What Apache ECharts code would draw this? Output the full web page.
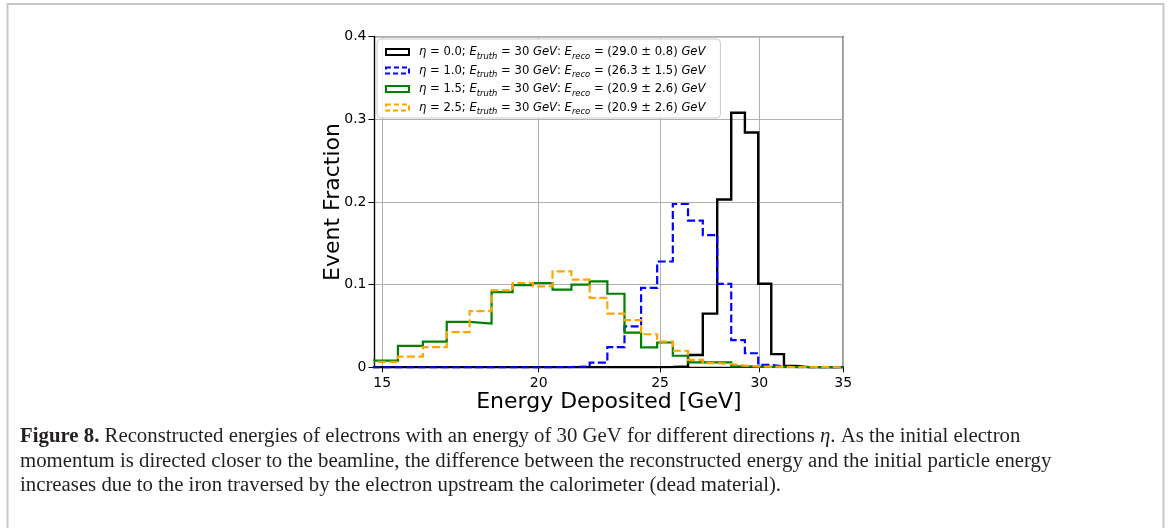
<!DOCTYPE html>
<html>
<head>
<meta charset="utf-8">
<script src="https://cdn.jsdelivr.net/npm/echarts@6/dist/echarts.min.js"></script>
<style>
html,body{margin:0;padding:0;background:#fff;}
#chart{width:1170px;height:528px;}
</style>
</head>
<body>
<div id="chart"></div>
<script>
// ---- data ----
const binEdges = [14.715, 15.44, 16.165, 16.89, 17.615, 18.34, 19.065, 19.79, 20.515, 21.24, 21.965, 22.69, 23.415, 24.14, 24.865, 25.59, 26.315, 27.04, 27.765, 28.49, 29.215, 29.94, 30.665, 31.39, 32.115, 32.84, 33.565, 34.29, 35.015];
const eta00 = [0,0,0,0,0,0,0,0,0,0,0,0,0,0,0.0003,0.001,0.0148,0.065,0.203,0.308,0.284,0.101,0.016,0.0016,0.0002,0,0,0];
const eta10 = [0,0,0,0,0,0,0,0,0.0003,0.001,0.0056,0.0245,0.0495,0.096,0.128,0.1976,0.1775,0.160,0.101,0.033,0.017,0.003,0.0008,0.0003,0,0,0,0];
const eta15 = [0.008,0.026,0.031,0.055,0.053,0.091,0.0995,0.102,0.094,0.100,0.104,0.089,0.042,0.024,0.030,0.014,0.006,0.006,0.006,0.001,0.0008,0.0005,0.0003,0.0002,0.0001,0.0001,0,0];
const eta25 = [0.0065,0.013,0.0245,0.0425,0.068,0.093,0.102,0.098,0.116,0.106,0.084,0.065,0.057,0.040,0.031,0.020,0.009,0.005,0.004,0.002,0.001,0.0008,0.0005,0.0003,0.0002,0.0001,0.0001,0];
const etaLabels = ['0.0', '1.0', '1.5', '2.5'];
const eTruth = ['30', '30', '30', '30'];
const recoMean = ['29.0', '26.3', '20.9', '20.9'];
const recoErr = ['0.8', '1.5', '2.6', '2.6'];
const xTickValues = [15, 20, 25, 30, 35];
const yTickValues = [0, 0.1, 0.2, 0.3, 0.4];
const xRange = [14.79, 35];
const yRange = [0, 0.4];
const xTitle = 'Energy Deposited [GeV]';
const yTitle = 'Event Fraction';
const captionLines = [
  '{b|Figure 8.} Reconstructed energies of electrons with an energy of 30 GeV for different directions {i|η}. As the initial electron',
  'momentum is directed closer to the beamline, the difference between the reconstructed energy and the initial particle energy',
  'increases due to the iron traversed by the electron upstream the calorimeter (dead material).'
];

// ---- styles ----
const colors = ['#000000', '#0000ff', '#008000', '#ffa500'];
const dashed = [false, true, false, true];
const seriesValues = [eta00, eta10, eta15, eta25];

const lx = v => Math.log10(v);

function stepPoints(vals) {
  const pts = [[lx(binEdges[0]), 0]];
  for (let k = 0; k < vals.length; k++) {
    pts.push([lx(binEdges[k]), vals[k]]);
    pts.push([lx(binEdges[k + 1]), vals[k]]);
  }
  pts.push([lx(binEdges[binEdges.length - 1]), 0]);
  return pts;
}

const names = etaLabels.map(e => 'η = ' + e);

const series = seriesValues.map((vals, i) => ({
  name: names[i],
  type: 'line',
  data: stepPoints(vals),
  showSymbol: false,
  symbol: 'none',
  clip: true,
  silent: true,
  itemStyle: { color: colors[i] },
  lineStyle: {
    color: colors[i],
    width: i === 0 ? 2.4 : 2.2,
    type: dashed[i] ? [8, 3.5] : 'solid',
    cap: 'butt',
    join: 'miter'
  },
  z: 2 + i
}));

const FS = 11.6;
const LH = 17;
const legendRich = {
  g: { fontFamily: 'DejaVu Sans', fontSize: FS, color: '#000', fontStyle: 'italic', padding: [0, 0, 0, 5], lineHeight: LH },
  t: { fontFamily: 'DejaVu Sans', fontSize: FS, color: '#000', lineHeight: LH },
  i: { fontFamily: 'DejaVu Sans', fontSize: FS, color: '#000', fontStyle: 'italic', lineHeight: LH },
  s: { fontFamily: 'DejaVu Sans', fontSize: 8.4, color: '#000', fontStyle: 'italic', verticalAlign: 'bottom', lineHeight: 9.5 }
};

function legendText(name) {
  const i = names.indexOf(name);
  return '{g|η}{t| = ' + etaLabels[i] + '; }{i|E}{s|truth}{t| = ' + eTruth[i] + ' }{i|GeV}{t|: }{i|E}{s|reco}{t| = (' +
    recoMean[i] + ' ± ' + recoErr[i] + ') }{i|GeV}';
}

const chart = echarts.init(document.getElementById('chart'), null, { renderer: 'canvas' });

const gridLeft = 374.5, gridTop = 36.7, gridRight = 843.2, gridBottom = 367.3;

const option = {
  animation: false,
  backgroundColor: '#ffffff',
  textStyle: { fontFamily: 'DejaVu Sans' },
  grid: {
    left: gridLeft, top: gridTop, width: gridRight - gridLeft, height: gridBottom - gridTop,
    show: true, borderColor: '#000', borderWidth: 1.2, backgroundColor: 'transparent',
    containLabel: false
  },
  xAxis: {
    type: 'value',
    min: lx(xRange[0]),
    max: lx(xRange[1]),
    name: xTitle,
    nameLocation: 'middle',
    nameGap: 24,
    nameMoveOverlap: false,
    nameTextStyle: { fontFamily: 'DejaVu Sans', fontSize: 22, color: '#000', verticalAlign: 'top' },
    axisLine: { show: true, onZero: false, lineStyle: { color: '#000', width: 1.2 } },
    axisTick: { show: true, length: 5, customValues: xTickValues.map(lx), lineStyle: { color: '#000', width: 1 } },
    axisLabel: {
      customValues: xTickValues.map(lx),
      formatter: v => String(Math.round(Math.pow(10, v))),
      fontFamily: 'DejaVu Sans', fontSize: 14, color: '#000', margin: 9,
      showMinLabel: true, showMaxLabel: true, hideOverlap: false
    },
    splitLine: { show: true, lineStyle: { color: '#b0b0b0', width: 1 } }
  },
  yAxis: {
    type: 'value',
    min: yRange[0], max: yRange[1], interval: 0.1,
    name: yTitle,
    nameLocation: 'middle',
    nameGap: 30,
    nameMoveOverlap: false,
    nameTextStyle: { fontFamily: 'DejaVu Sans', fontSize: 22, color: '#000' },
    axisLine: { show: true, lineStyle: { color: '#000', width: 1.2 } },
    axisTick: { show: true, length: 6, lineStyle: { color: '#000', width: 1 } },
    axisLabel: {
      formatter: v => (v === 0 ? '0' : v.toFixed(1)),
      fontFamily: 'DejaVu Sans', fontSize: 14, color: '#000', margin: 8
    },
    splitLine: { show: true, lineStyle: { color: '#b0b0b0', width: 1 } }
  },
  legend: {
    show: true,
    orient: 'vertical',
    left: 377, top: 39,
    padding: [7, 15, 2, 8],
    itemGap: 4,
    itemWidth: 23, itemHeight: 6,
    icon: 'rect',
    selectedMode: false,
    backgroundColor: 'rgba(255,255,255,0.85)',
    borderColor: '#cccccc', borderWidth: 1, borderRadius: 4,
    formatter: legendText,
    textStyle: { rich: legendRich, fontFamily: 'DejaVu Sans', fontSize: FS, color: '#000' },
    data: names.map((n, i) => ({
      name: n,
      icon: 'rect',
      itemStyle: {
        color: 'rgba(0,0,0,0)', borderColor: colors[i], borderWidth: 2,
        borderType: dashed[i] ? [5, 3] : 'solid'
      }
    })),
    z: 10
  },
  series: series,
  graphic: [
    {
      type: 'rect', silent: true, z: 0,
      shape: { x: 7.5, y: 4, width: 1156, height: 540 },
      style: { fill: 'none', stroke: '#c8c8c8', lineWidth: 2 }
    }
  ].concat(captionLines.map((line, k) => ({
    type: 'text', silent: true, z: 5,
    x: 20, y: 437 + k * 24.5,
    style: {
      text: line,
      fill: '#231f20',
      font: '20.8px "Liberation Serif"',
      verticalAlign: 'middle',
      rich: {
        b: { fontWeight: 'bold', fontFamily: 'Liberation Serif', fontSize: 20.8, fill: '#231f20', color: '#231f20' },
        i: { fontStyle: 'italic', fontFamily: 'Liberation Serif', fontSize: 20.8, fill: '#231f20', color: '#231f20' }
      }
    }
  })))
};

chart.setOption(option);
</script>
</body>
</html>
